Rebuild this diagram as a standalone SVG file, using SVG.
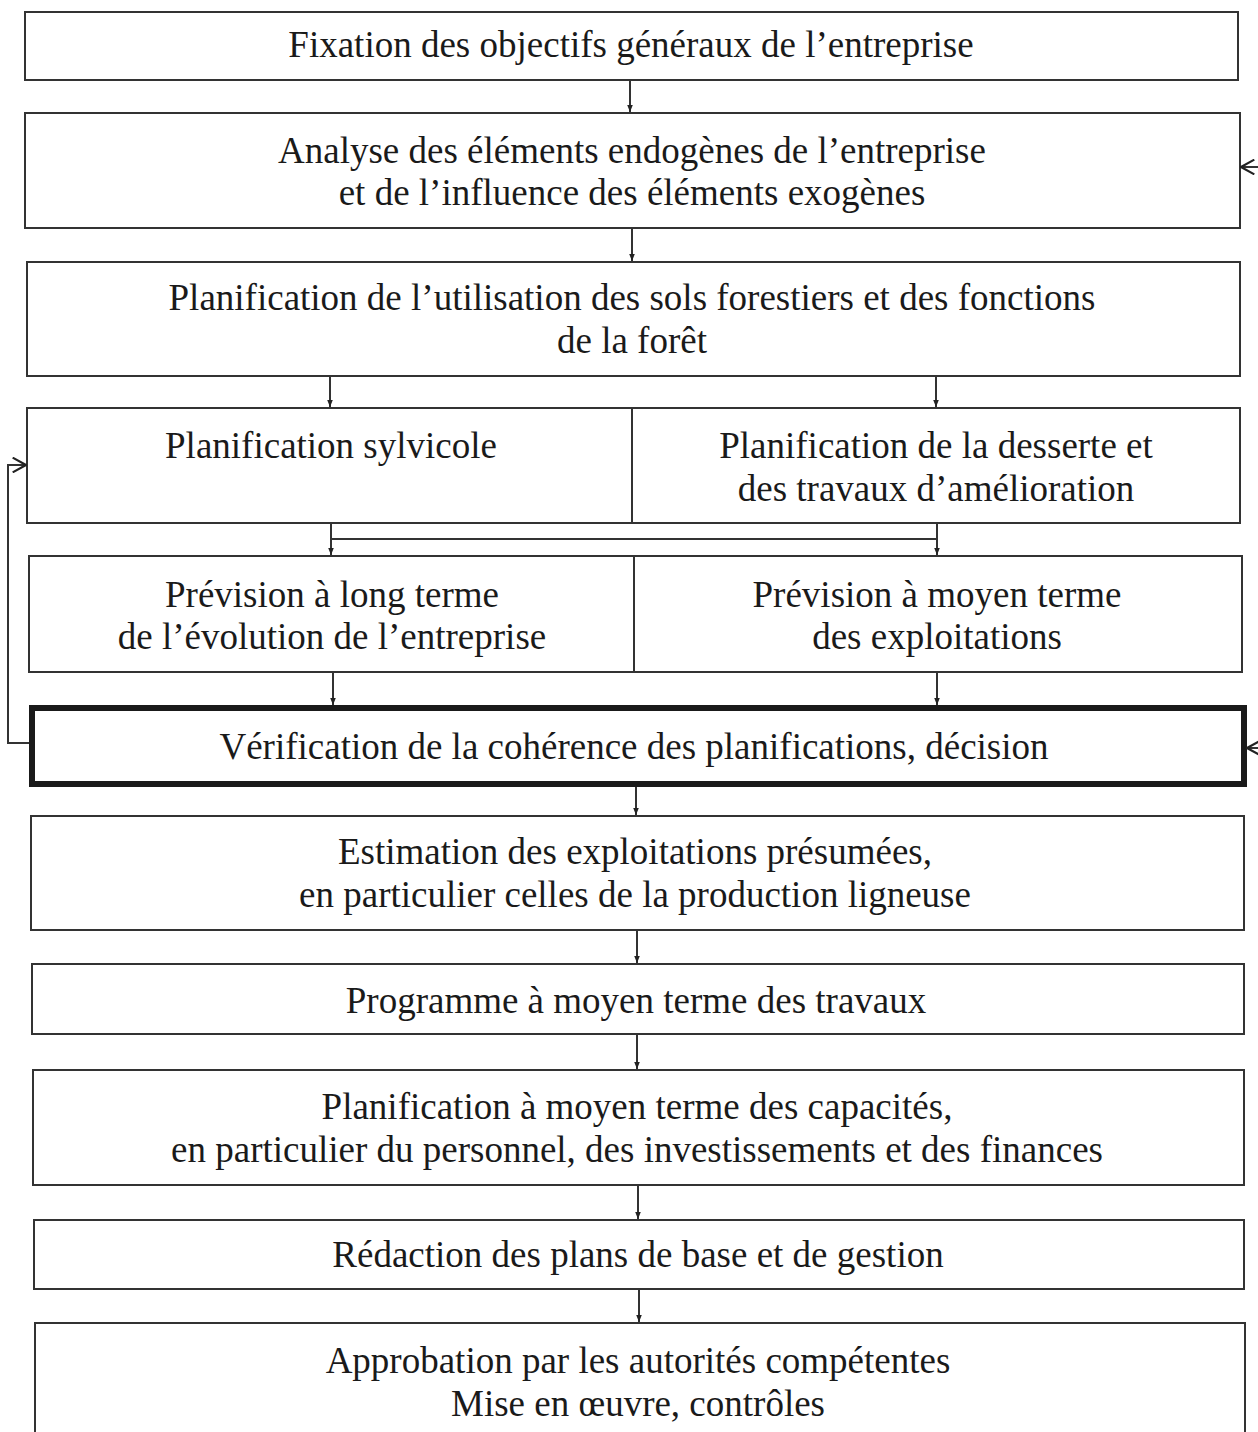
<svg xmlns="http://www.w3.org/2000/svg" width="1258" height="1432" viewBox="0 0 1258 1432">
<style>
.box{fill:#fff;stroke:#333;stroke-width:2}
.thick{fill:#fff;stroke:#1a1a1a;stroke-width:6}
.t{font-family:"Liberation Serif","Times New Roman",serif;font-size:37px;fill:#1a1a1a;text-anchor:middle}
.c{fill:none;stroke:#333;stroke-width:2}
</style>
<defs>
<marker id="a" viewBox="0 0 10 10" refX="10" refY="5" markerWidth="7" markerHeight="7" markerUnits="userSpaceOnUse" orient="auto">
<path d="M0,1 L10,5 L0,9 Z" fill="#222"/>
</marker>
<marker id="v" viewBox="0 0 12 12" refX="11" refY="6" markerWidth="16" markerHeight="16" markerUnits="userSpaceOnUse" orient="auto">
<path d="M1,0.5 L11,6 L1,11.5" fill="none" stroke="#222" stroke-width="1.6"/>
</marker>
</defs>
<rect width="1258" height="1432" fill="#fff"/>
<g id="n1"><rect class="box" x="25" y="12" width="1213" height="68"/><text class="t" x="631" y="57">Fixation des objectifs généraux de l’entreprise</text></g>
<g id="n2"><rect class="box" x="25" y="113" width="1215" height="115"/><text class="t" x="632" y="163">Analyse des éléments endogènes de l’entreprise</text><text class="t" x="632" y="205">et de l’influence des éléments exogènes</text></g>
<g id="n3"><rect class="box" x="27" y="262" width="1213" height="114"/><text class="t" x="632" y="310">Planification de l’utilisation des sols forestiers et des fonctions</text><text class="t" x="632" y="353">de la forêt</text></g>
<g id="n4a"><rect class="box" x="27" y="408" width="605" height="115"/><text class="t" x="331" y="458">Planification sylvicole</text></g>
<g id="n4b"><rect class="box" x="632" y="408" width="608" height="115"/><text class="t" x="936" y="458">Planification de la desserte et</text><text class="t" x="936" y="501">des travaux d’amélioration</text></g>
<g id="n5a"><rect class="box" x="29" y="556" width="605" height="116"/><text class="t" x="332" y="607">Prévision à long terme</text><text class="t" x="332" y="649">de l’évolution de l’entreprise</text></g>
<g id="n5b"><rect class="box" x="634" y="556" width="608" height="116"/><text class="t" x="937" y="607">Prévision à moyen terme</text><text class="t" x="937" y="649">des exploitations</text></g>
<g id="n6"><rect class="thick" x="32" y="708" width="1212" height="76"/><text class="t" x="634" y="759">Vérification de la cohérence des planifications, décision</text></g>
<g id="n7"><rect class="box" x="31" y="816" width="1213" height="114"/><text class="t" x="635" y="864">Estimation des exploitations présumées,</text><text class="t" x="635" y="907">en particulier celles de la production ligneuse</text></g>
<g id="n8"><rect class="box" x="32" y="964" width="1212" height="70"/><text class="t" x="636" y="1013">Programme à moyen terme des travaux</text></g>
<g id="n9"><rect class="box" x="33" y="1070" width="1211" height="115"/><text class="t" x="637" y="1119">Planification à moyen terme des capacités,</text><text class="t" x="637" y="1162">en particulier du personnel, des investissements et des finances</text></g>
<g id="n10"><rect class="box" x="34" y="1220" width="1210" height="69"/><text class="t" x="638" y="1267">Rédaction des plans de base et de gestion</text></g>
<g id="n11"><rect class="box" x="35" y="1323" width="1210" height="130"/><text class="t" x="638" y="1373">Approbation par les autorités compétentes</text><text class="t" x="638" y="1416">Mise en œuvre, contrôles</text></g>
<g id="connectors">
<line class="c" x1="630" y1="80" x2="630" y2="112" marker-end="url(#a)"/>
<line class="c" x1="632" y1="228" x2="632" y2="261" marker-end="url(#a)"/>
<line class="c" x1="330" y1="376" x2="330" y2="407" marker-end="url(#a)"/>
<line class="c" x1="936" y1="376" x2="936" y2="407" marker-end="url(#a)"/>
<line class="c" x1="331" y1="523" x2="331" y2="555" marker-end="url(#a)"/>
<line class="c" x1="937" y1="523" x2="937" y2="555" marker-end="url(#a)"/>
<line class="c" x1="331" y1="539" x2="937" y2="539"/>
<line class="c" x1="333" y1="672" x2="333" y2="705" marker-end="url(#a)"/>
<line class="c" x1="937" y1="672" x2="937" y2="705" marker-end="url(#a)"/>
<line class="c" x1="636" y1="787" x2="636" y2="815" marker-end="url(#a)"/>
<line class="c" x1="637" y1="930" x2="637" y2="963" marker-end="url(#a)"/>
<line class="c" x1="637" y1="1034" x2="637" y2="1069" marker-end="url(#a)"/>
<line class="c" x1="638" y1="1185" x2="638" y2="1219" marker-end="url(#a)"/>
<line class="c" x1="639" y1="1289" x2="639" y2="1322" marker-end="url(#a)"/>
<polyline class="c" points="29,743 8,743 8,465 26,465" marker-end="url(#v)"/>
<line class="c" x1="1262" y1="167" x2="1241" y2="167" marker-end="url(#v)"/>
<line class="c" x1="1262" y1="748" x2="1247" y2="748" marker-end="url(#v)"/>
</g>
</svg>
